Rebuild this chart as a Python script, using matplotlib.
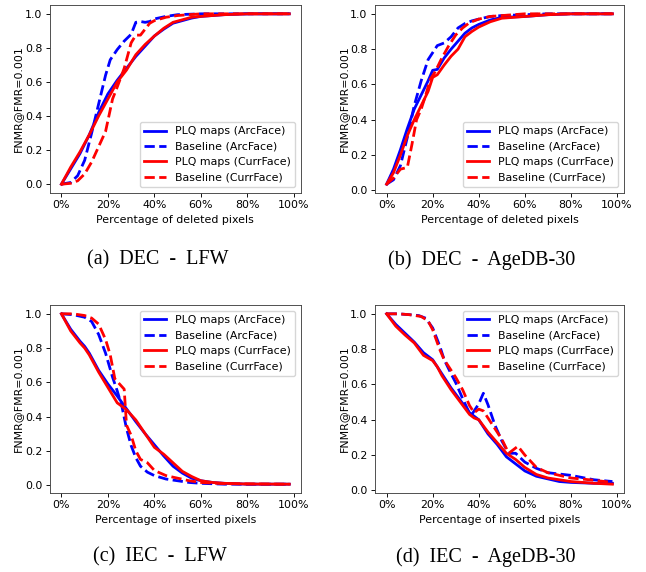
import matplotlib
matplotlib.use('Agg')
import matplotlib.pyplot as plt
from matplotlib.ticker import PercentFormatter

# the original looks like a default matplotlib figure shrunk by ~0.79
plt.rcParams['font.family'] = ['DejaVu Sans']
plt.rcParams['font.size'] = 7.9
plt.rcParams['axes.linewidth'] = 0.65
plt.rcParams['xtick.major.size'] = 2.8
plt.rcParams['ytick.major.size'] = 2.8
plt.rcParams['xtick.major.width'] = 0.65
plt.rcParams['ytick.major.width'] = 0.65
plt.rcParams['xtick.major.pad'] = 2.8
plt.rcParams['ytick.major.pad'] = 2.8
plt.rcParams['axes.labelpad'] = 3.2

labels = ['PLQ maps (ArcFace)', 'Baseline (ArcFace)', 'PLQ maps (CurrFace)', 'Baseline (CurrFace)']
captions = ['(a)  DEC  -  LFW', '(b)  DEC  -  AgeDB-30', '(c)  IEC  -  LFW', '(d)  IEC  -  AgeDB-30']
xlabels = ['Percentage of deleted pixels', 'Percentage of deleted pixels',
           'Percentage of inserted pixels', 'Percentage of inserted pixels']

# (a) DEC - LFW
a_x_plq = [0, .04, .08, .12, .16, .20, .24, .28, .32, .36, .40, .44, .48, .52, .56, .60, .70, .80, .98]
a_plq_arc = [0, .09, .18, .29, .42, .53, .61, .68, .75, .81, .87, .91, .945, .96, .975, .985, .995, 1.0, 1.0]
a_plq_curr = [0, .10, .19, .29, .40, .50, .60, .67, .76, .82, .87, .915, .95, .965, .98, .985, .995, 1.0, 1.0]
a_x_base_arc = [0, .04, .07, .10, .13, .16, .19, .21, .24, .27, .30, .32, .34, .36, .38, .40, .45, .50, .60, .98]
a_base_arc = [0, .01, .05, .14, .30, .47, .64, .73, .79, .84, .88, .95, .955, .95, .955, .97, .985, .995, 1.0, 1.0]
a_x_base_curr = [0, .04, .07, .10, .13, .16, .19, .22, .24, .27, .30, .32, .34, .36, .38, .40, .45, .50, .60, .98]
a_base_curr = [0, .005, .02, .06, .13, .22, .31, .50, .57, .68, .83, .875, .875, .91, .945, .96, .98, .99, 1.0, 1.0]

# (b) DEC - AgeDB-30
b_x_plq = [0, .03, .06, .09, .12, .15, .18, .20, .22, .25, .28, .31, .34, .37, .40, .45, .50, .60, .70, .80, .98]
b_plq_arc = [.035, .12, .23, .35, .46, .54, .62, .68, .685, .75, .80, .845, .89, .92, .94, .965, .98, .985, .995, 1.0, 1.0]
b_plq_curr = [.035, .10, .20, .31, .40, .48, .56, .64, .655, .71, .76, .80, .87, .90, .925, .955, .975, .985, .995, 1.0, 1.0]
b_x_base_arc = [0, .03, .06, .09, .12, .15, .18, .20, .22, .25, .28, .31, .34, .37, .40, .45, .50, .60, .70, .98]
b_base_arc = [.035, .06, .14, .30, .48, .62, .74, .78, .82, .835, .87, .92, .945, .96, .97, .985, .99, .995, 1.0, 1.0]
b_x_base_curr = [0, .03, .06, .09, .11, .13, .15, .17, .19, .21, .24, .27, .30, .33, .36, .40, .45, .50, .60, .98]
b_base_curr = [.035, .07, .12, .13, .26, .40, .46, .54, .63, .67, .75, .82, .88, .92, .95, .97, .985, .99, 1.0, 1.0]

# (c) IEC - LFW
c_x_plq = [0, .04, .08, .10, .12, .16, .20, .24, .28, .32, .36, .40, .44, .48, .52, .56, .60, .65, .70, .80, .98]
c_plq_arc = [1.0, .91, .84, .81, .77, .67, .59, .52, .445, .37, .30, .235, .17, .11, .07, .04, .025, .015, .01, .005, .005]
c_plq_curr = [1.0, .90, .83, .80, .76, .66, .57, .48, .44, .38, .30, .22, .18, .13, .08, .05, .025, .015, .01, .006, .005]
c_x_base_arc = [0, .05, .10, .13, .16, .19, .22, .24, .26, .28, .30, .32, .34, .37, .40, .45, .50, .55, .60, .70, .98]
c_base_arc = [1.0, .995, .98, .955, .88, .77, .63, .55, .46, .33, .23, .16, .11, .075, .055, .035, .025, .015, .01, .005, .005]
c_x_base_curr = [0, .05, .10, .13, .16, .19, .21, .23, .25, .27, .28, .30, .32, .34, .37, .40, .45, .50, .55, .60, .70, .98]
c_base_curr = [1.0, 1.0, .99, .975, .94, .85, .76, .62, .59, .56, .35, .29, .20, .15, .13, .085, .055, .04, .025, .015, .008, .005]

# (d) IEC - AgeDB-30
d_x_plq = [0, .04, .08, .12, .16, .18, .20, .22, .24, .28, .32, .36, .38, .40, .44, .48, .52, .56, .60, .65, .70, .75, .80, .90, .98]
d_plq_arc = [1.0, .94, .89, .84, .78, .76, .74, .70, .66, .58, .51, .44, .42, .40, .32, .26, .19, .15, .11, .08, .065, .05, .045, .04, .04]
d_plq_curr = [1.0, .93, .88, .835, .765, .75, .735, .70, .65, .57, .50, .43, .41, .40, .33, .27, .21, .175, .13, .09, .07, .06, .05, .04, .035]
d_x_base_arc = [0, .05, .10, .14, .17, .20, .23, .25, .28, .30, .33, .355, .37, .40, .42, .44, .47, .50, .53, .56, .60, .65, .70, .80, .90, .98]
d_base_arc = [1.0, 1.0, .995, .99, .975, .92, .82, .74, .66, .61, .52, .45, .43, .49, .55, .485, .37, .28, .21, .21, .16, .125, .10, .085, .06, .05]
d_x_base_curr = [0, .05, .10, .15, .18, .20, .23, .25, .28, .30, .33, .36, .38, .40, .42, .45, .48, .50, .53, .57, .60, .65, .70, .80, .88, .98]
d_base_curr = [1.0, 1.0, .995, .985, .96, .91, .80, .74, .68, .64, .57, .48, .44, .46, .45, .39, .33, .29, .21, .25, .20, .13, .10, .07, .06, .045]

panels = [
    [(a_x_plq, a_plq_arc), (a_x_base_arc, a_base_arc), (a_x_plq, a_plq_curr), (a_x_base_curr, a_base_curr)],
    [(b_x_plq, b_plq_arc), (b_x_base_arc, b_base_arc), (b_x_plq, b_plq_curr), (b_x_base_curr, b_base_curr)],
    [(c_x_plq, c_plq_arc), (c_x_base_arc, c_base_arc), (c_x_plq, c_plq_curr), (c_x_base_curr, c_base_curr)],
    [(d_x_plq, d_plq_arc), (d_x_base_arc, d_base_arc), (d_x_plq, d_plq_curr), (d_x_base_curr, d_base_curr)],
]
styles = [('b', '-'), ('b', '--'), ('r', '-'), ('r', '--')]

W, H = 646, 572
fig = plt.figure(figsize=(W / 100, H / 100), dpi=100)

# axes boxes in pixels: left, top, right, bottom
boxes = [(50, 5.3, 300.7, 192.7), (375.3, 5.3, 623.7, 192.7),
         (50, 305.3, 300.7, 492.7), (375.3, 305.3, 623.7, 492.7)]
cap_pos = [(158, 260), (482, 260), (160, 557), (486, 557)]
legend_loc = ['lower right', 'lower right', 'upper right', 'upper right']

for i in range(4):
    l, t, r, b = boxes[i]
    ax = fig.add_axes([l / W, 1 - b / H, (r - l) / W, (b - t) / H])
    for (xs, ys), (c, ls), lab in zip(panels[i], styles, labels):
        ax.plot(xs, ys, color=c, linestyle=ls, linewidth=2, label=lab)
    ax.set_xticks([0, .2, .4, .6, .8, 1.0])
    ax.set_yticks([0, .2, .4, .6, .8, 1.0])
    ax.xaxis.set_major_formatter(PercentFormatter(xmax=1, decimals=0))
    ax.set_xlabel(xlabels[i])
    ax.set_ylabel('FNMR@FMR=0.001', labelpad=1)
    for s in ax.spines.values():
        s.set_color('#444444')
    ax.legend(loc=legend_loc[i])
    fig.text(cap_pos[i][0] / W, 1 - cap_pos[i][1] / H, captions[i], ha='center', va='center',
             family='Liberation Serif', fontsize=14.5)

fig.savefig('out.png', dpi=100)
